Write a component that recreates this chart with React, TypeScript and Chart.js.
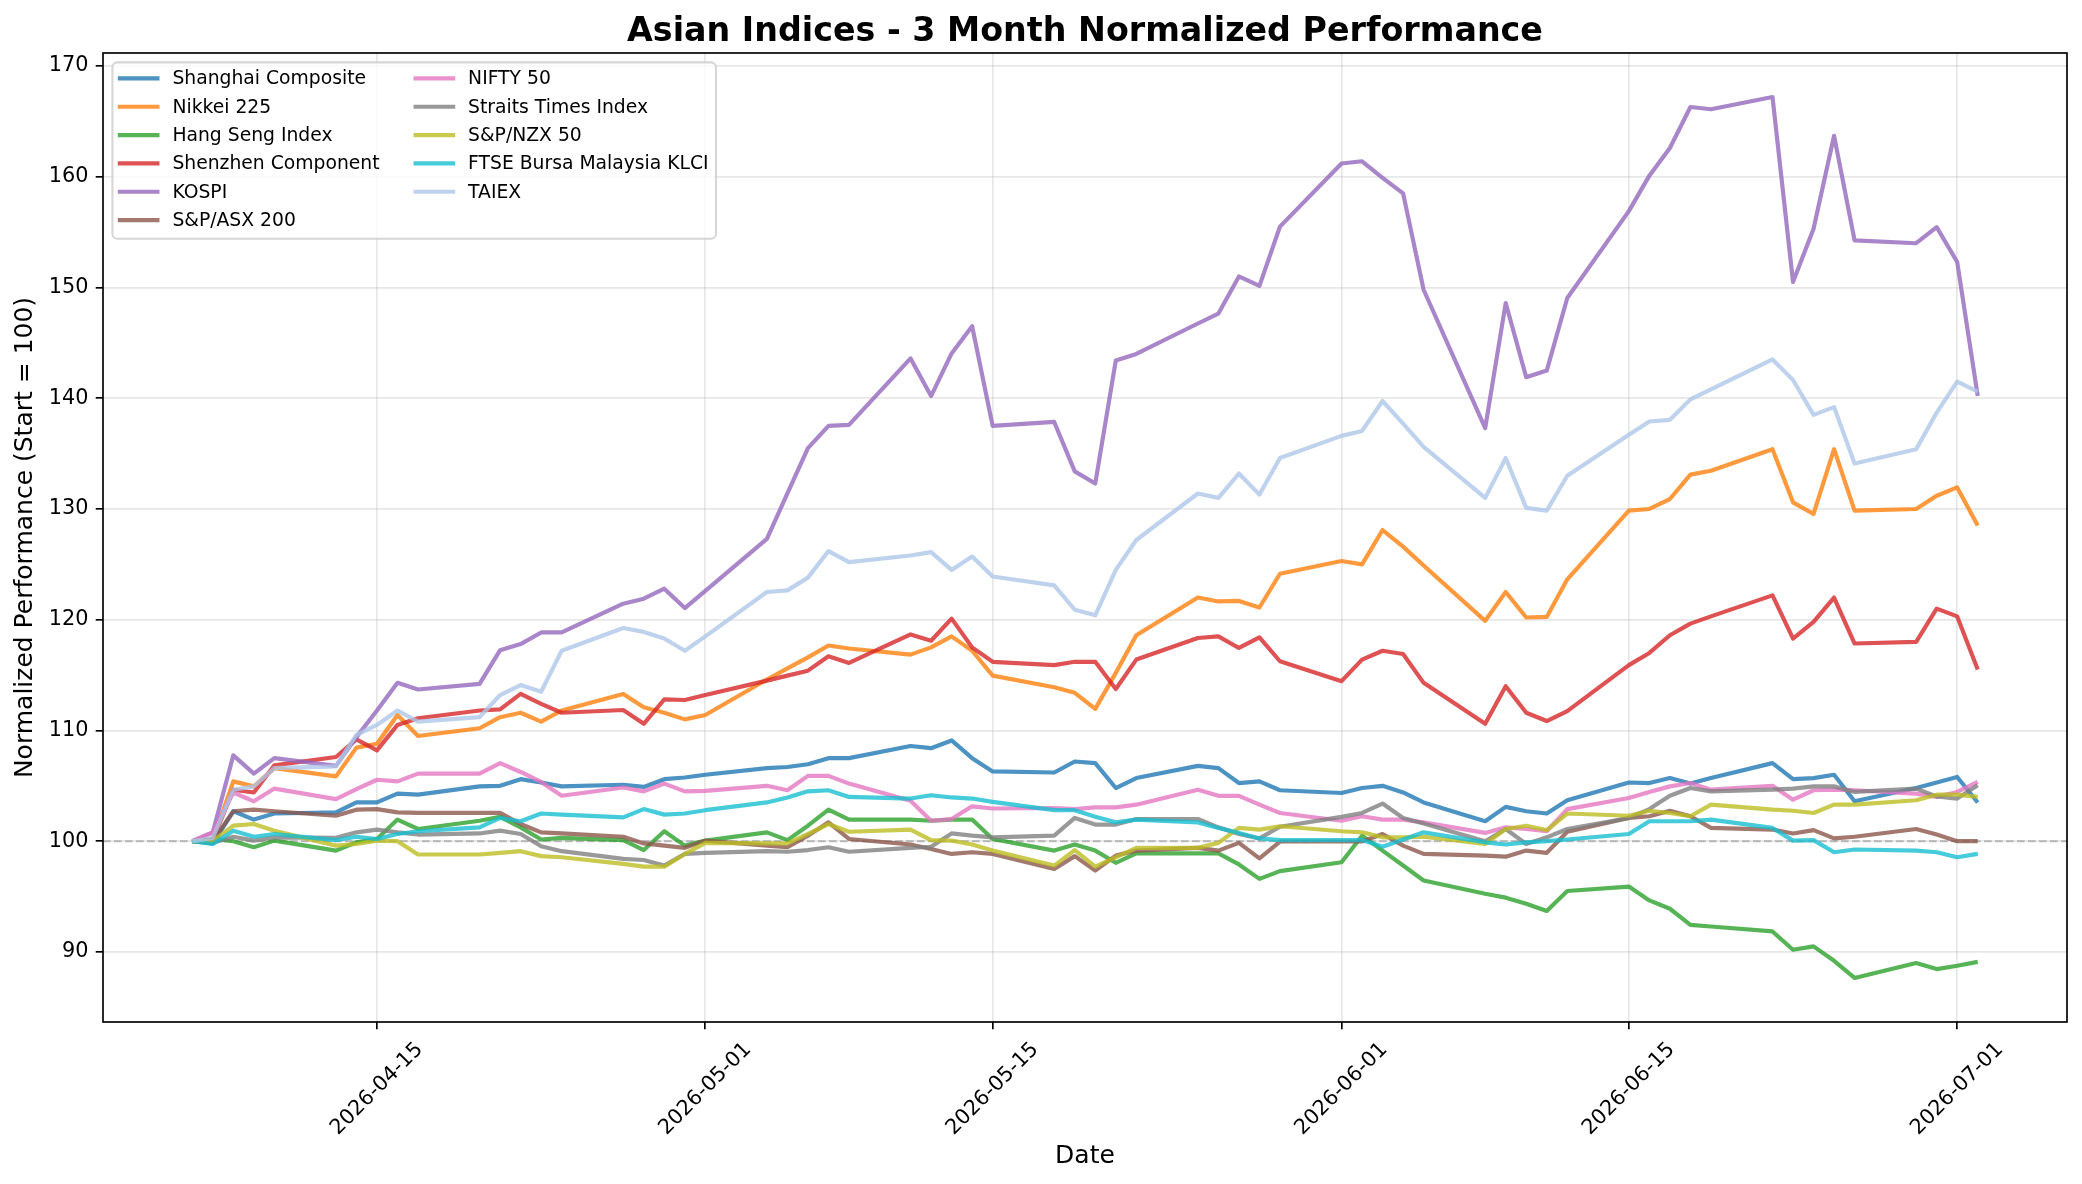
import React, { useEffect, useRef } from 'react';
import { Chart, registerables } from 'chart.js';

Chart.register(...registerables);

const TITLE = 'Asian Indices - 3 Month Normalized Performance';
const X_LABEL = 'Date';
const Y_LABEL = 'Normalized Performance (Start = 100)';
const BASELINE = 100;

const DATES = [
  '2026-04-06', '2026-04-07', '2026-04-08', '2026-04-09', '2026-04-10',
  '2026-04-13', '2026-04-14', '2026-04-15', '2026-04-16', '2026-04-17',
  '2026-04-20', '2026-04-21', '2026-04-22', '2026-04-23', '2026-04-24',
  '2026-04-27', '2026-04-28', '2026-04-29', '2026-04-30', '2026-05-01',
  '2026-05-04', '2026-05-05', '2026-05-06', '2026-05-07', '2026-05-08',
  '2026-05-11', '2026-05-12', '2026-05-13', '2026-05-14', '2026-05-15',
  '2026-05-18', '2026-05-19', '2026-05-20', '2026-05-21', '2026-05-22',
  '2026-05-25', '2026-05-26', '2026-05-27', '2026-05-28', '2026-05-29',
  '2026-06-01', '2026-06-02', '2026-06-03', '2026-06-04', '2026-06-05',
  '2026-06-08', '2026-06-09', '2026-06-10', '2026-06-11', '2026-06-12',
  '2026-06-15', '2026-06-16', '2026-06-17', '2026-06-18', '2026-06-19',
  '2026-06-22', '2026-06-23', '2026-06-24', '2026-06-25', '2026-06-26',
  '2026-06-29', '2026-06-30', '2026-07-01', '2026-07-02',
];

const X_TICK_DATES = ['2026-04-15', '2026-05-01', '2026-05-15', '2026-06-01', '2026-06-15', '2026-07-01'];
const Y_TICKS = [90, 100, 110, 120, 130, 140, 150, 160, 170];

const SHANGHAI = [
  100, 99.8, 102.7, 101.95, 102.5, 102.6, 103.5, 103.5, 104.3, 104.2,
  104.95, 105.0, 105.6, 105.3, 104.95, 105.1, 104.9, 105.6, 105.75, 106.0,
  106.6, 106.7, 106.95, 107.5, 107.5, 108.6, 108.4, 109.1, 107.5, 106.3,
  106.2, 107.2, 107.05, 104.8, 105.7, 106.8, 106.6, 105.25, 105.4, 104.6,
  104.35, 104.8, 105.0, 104.4, 103.5, 101.8, 103.1, 102.7, 102.5, 103.7,
  105.3, 105.25, 105.7, 105.2, 105.7, 107.05, 105.6, 105.7, 106.0, 103.6,
  104.8, 105.3, 105.8, 103.5,
];
const NIKKEI = [
  100, 100.1, 105.4, 104.95, 106.6, 105.85, 108.45, 108.8, 111.4, 109.5,
  110.2, 111.2, 111.6, 110.8, 111.8, 113.3, 112.1, 111.6, 111.0, 111.4,
  114.6, 115.6, 116.6, 117.67, 117.4, 116.85, 117.5, 118.5, 117.2, 114.95,
  113.9, 113.4, 111.95, 115.2, 118.6, 122.0, 121.65, 121.7, 121.1, 124.15,
  125.3, 125.0, 128.1, 126.6, 124.9, 119.9, 122.5, 120.2, 120.25, 123.65,
  129.85, 130.0, 130.9, 133.1, 133.45, 135.4, 130.6, 129.55, 135.4, 129.85,
  130.0, 131.2, 131.95, 128.5,
];
const HANG_SENG = [
  100, 100.2, 100.0, 99.45, 100.05, 99.15, 99.9, 100.2, 101.95, 101.1,
  101.85, 102.2, 101.25, 100.15, 100.3, 100.1, 99.2, 100.9, 99.6, 100.05,
  100.8, 100.1, 101.4, 102.85, 101.95, 101.95, 101.85, 101.95, 101.95, 100.2,
  99.15, 99.7, 99.15, 98.05, 98.9, 98.9, 98.9, 97.9, 96.6, 97.3,
  98.1, 100.5, 99.15, 97.8, 96.45, 95.25, 94.9, 94.35, 93.7, 95.5,
  95.9, 94.65, 93.9, 92.45, 92.3, 91.85, 90.2, 90.5, 89.2, 87.65,
  89.0, 88.45, 88.75, 89.1,
];
const SHENZHEN = [
  100, 100.1, 104.65, 104.4, 106.85, 107.6, 109.2, 108.2, 110.5, 111.1,
  111.8, 111.9, 113.3, 112.4, 111.6, 111.85, 110.6, 112.8, 112.75, 113.2,
  114.5, 114.95, 115.4, 116.7, 116.1, 118.67, 118.1, 120.1, 117.5, 116.2,
  115.9, 116.2, 116.2, 113.75, 116.4, 118.35, 118.5, 117.45, 118.4, 116.25,
  114.45, 116.4, 117.2, 116.9, 114.3, 110.6, 114.0, 111.6, 110.85, 111.75,
  115.9, 117.0, 118.6, 119.65, 120.3, 122.2, 118.3, 119.8, 122.0, 117.85,
  118.0, 121.0, 120.3, 115.5,
];
const KOSPI = [
  100, 100.8, 107.75, 106.1, 107.5, 106.8, 109.4, 111.8, 114.3, 113.7,
  114.2, 117.25, 117.8, 118.85, 118.85, 121.45, 121.9, 122.8, 121.05, 122.6,
  127.3, 131.4, 135.5, 137.5, 137.6, 143.6, 140.2, 144.05, 146.5, 137.5,
  137.86, 133.4, 132.3, 143.4, 144.0, 146.75, 147.65, 151.0, 150.15, 155.5,
  161.2, 161.4, 159.9, 158.5, 149.8, 137.3, 148.6, 141.9, 142.5, 149.05,
  156.9, 160.1, 162.6, 166.3, 166.1, 167.2, 150.5, 155.3, 163.7, 154.25,
  154.0, 155.45, 152.3, 140.2,
];
const ASX_200 = [
  100, 100, 102.7, 102.85, 102.7, 102.3, 102.85, 102.9, 102.6, 102.55,
  102.55, 102.55, 101.55, 100.8, 100.7, 100.4, 99.8, 99.6, 99.4, 100.05,
  99.6, 99.45, 100.5, 101.7, 100.2, 99.7, 99.3, 98.85, 99.0, 98.85,
  97.5, 98.65, 97.35, 98.7, 99.15, 99.4, 99.15, 99.85, 98.45, 99.97,
  99.97, 99.97, 100.65, 99.6, 98.85, 98.7, 98.6, 99.15, 98.95, 100.85,
  102.1, 102.25, 102.75, 102.25, 101.2, 101.05, 100.7, 101.0, 100.25, 100.4,
  101.1, 100.6, 100.0, 100.0,
];
const NIFTY_50 = [
  100, 100.8, 104.4, 103.6, 104.75, 103.8, 104.7, 105.55, 105.4, 106.1,
  106.1, 107.05, 106.25, 105.35, 104.1, 104.85, 104.5, 105.2, 104.5, 104.55,
  105.0, 104.6, 105.9, 105.9, 105.2, 103.65, 101.85, 102.0, 103.15, 102.95,
  103.0, 102.9, 103.05, 103.05, 103.3, 104.65, 104.1, 104.1, 103.3, 102.55,
  101.85, 102.25, 101.95, 101.95, 101.7, 100.75, 101.25, 101.1, 100.9, 102.9,
  103.9, 104.45, 104.95, 105.25, 104.65, 105.0, 103.75, 104.6, 104.65, 104.6,
  104.3, 104.0, 104.45, 105.35,
];
const STRAITS = [
  100, 99.85, 100.4, 100.05, 100.35, 100.3, 100.8, 101.05, 100.8, 100.6,
  100.7, 100.95, 100.65, 99.55, 99.1, 98.4, 98.3, 97.8, 98.85, 98.95,
  99.1, 99.05, 99.2, 99.45, 99.05, 99.4, 99.5, 100.7, 100.5, 100.35,
  100.5, 102.1, 101.5, 101.5, 102.0, 102.0, 101.25, 100.65, 100.25, 101.3,
  102.2, 102.55, 103.4, 102.1, 101.6, 100.0, 101.1, 99.75, 100.35, 101.1,
  102.1, 102.9, 104.1, 104.8, 104.5, 104.65, 104.75, 104.95, 104.95, 104.45,
  104.75, 104.05, 103.85, 105.05,
];
const NZX_50 = [
  100, 100, 101.4, 101.55, 100.95, 99.6, 99.75, 100.05, 100.0, 98.8,
  98.8, 98.95, 99.1, 98.65, 98.55, 97.95, 97.7, 97.7, 98.85, 99.85,
  99.8, 99.8, 100.65, 101.55, 100.85, 101.05, 100.1, 100.05, 99.7, 99.15,
  97.8, 99.2, 97.7, 98.55, 99.4, 99.4, 99.85, 101.2, 101.05, 101.35,
  100.9, 100.8, 100.35, 100.35, 100.4, 99.75, 101.1, 101.4, 101.0, 102.5,
  102.3, 102.75, 102.55, 102.25, 103.3, 102.85, 102.75, 102.55, 103.3, 103.3,
  103.7, 104.2, 104.2, 104.0,
];
const KLCI = [
  100, 99.75, 100.95, 100.4, 100.65, 100.1, 100.4, 100.2, 100.65, 100.9,
  101.25, 102.1, 101.8, 102.5, 102.4, 102.15, 102.9, 102.4, 102.5, 102.8,
  103.5, 103.95, 104.5, 104.6, 104.0, 103.85, 104.15, 103.95, 103.85, 103.55,
  102.8, 102.8, 102.2, 101.7, 101.95, 101.7, 101.2, 100.75, 100.25, 100.1,
  100.1, 100.1, 99.5, 100.15, 100.8, 99.9, 99.7, 99.9, 100.0, 100.15,
  100.65, 101.8, 101.8, 101.8, 101.95, 101.2, 100.05, 100.1, 99.0, 99.25,
  99.15, 99.0, 98.55, 98.85,
];
const TAIEX = [
  100, 100.3, 104.65, 104.95, 106.6, 106.75, 109.6, 110.5, 111.8, 110.8,
  111.2, 113.2, 114.1, 113.5, 117.2, 119.25, 118.9, 118.3, 117.2, 118.5,
  122.5, 122.65, 123.8, 126.2, 125.2, 125.8, 126.1, 124.5, 125.7, 123.9,
  123.1, 120.9, 120.4, 124.5, 127.2, 131.4, 131.0, 133.2, 131.3, 134.6,
  136.6, 137.05, 139.75, 137.7, 135.6, 131.0, 134.6, 130.1, 129.85, 133.0,
  136.7, 137.9, 138.05, 139.9, 140.8, 143.5, 141.65, 138.5, 139.2, 134.1,
  135.4, 138.7, 141.5, 140.6,
];

const SERIES_NAMES = [
  'Shanghai Composite', 'Nikkei 225', 'Hang Seng Index', 'Shenzhen Component', 'KOSPI',
  'S&P/ASX 200', 'NIFTY 50', 'Straits Times Index', 'S&P/NZX 50', 'FTSE Bursa Malaysia KLCI', 'TAIEX',
];
const SERIES_VALUES = [SHANGHAI, NIKKEI, HANG_SENG, SHENZHEN, KOSPI, ASX_200, NIFTY_50, STRAITS, NZX_50, KLCI, TAIEX];
const SERIES_COLORS = [
  '#1f77b4', '#ff7f0e', '#2ca02c', '#d62728', '#9467bd',
  '#8c564b', '#e377c2', '#7f7f7f', '#bcbd22', '#17becf', '#aec7e8',
];

const W = 2082;
const H = 1184;
const FONT = '"DejaVu Sans", Verdana, sans-serif';
const DAY_MS = 86400000;
const toDay = (s: string) => Date.parse(s + 'T00:00:00Z') / DAY_MS;

function withAlpha(hex: string, a: number) {
  const n = parseInt(hex.slice(1), 16);
  return `rgba(${(n >> 16) & 255},${(n >> 8) & 255},${n & 255},${a})`;
}

const decorPlugin = {
  id: 'decor',
  beforeDatasetsDraw(chart: any) {
    const { ctx, chartArea: a, scales } = chart;
    const py = scales.y.getPixelForValue(BASELINE);
    ctx.save();
    ctx.beginPath();
    ctx.rect(a.left, a.top, a.right - a.left, a.bottom - a.top);
    ctx.clip();
    ctx.strokeStyle = 'rgba(128,128,128,0.5)';
    ctx.lineWidth = 2.08;
    ctx.setLineDash([7.7, 3.3]);
    ctx.beginPath();
    ctx.moveTo(a.left, py);
    ctx.lineTo(a.right, py);
    ctx.stroke();
    ctx.restore();
  },
  afterDraw(chart: any) {
    const { ctx, chartArea: a, scales } = chart;
    const cx = (a.left + a.right) / 2;
    ctx.save();
    // frame
    ctx.strokeStyle = '#000';
    ctx.lineWidth = 1.67;
    ctx.strokeRect(a.left, a.top, a.right - a.left, a.bottom - a.top);

    ctx.fillStyle = '#000';
    // x tick labels (rotated 45, centered)
    ctx.font = `20.8px ${FONT}`;
    X_TICK_DATES.forEach((d) => {
      const px = scales.x.getPixelForValue(toDay(d));
      ctx.save();
      ctx.translate(px, a.bottom + 67);
      ctx.rotate(-Math.PI / 4);
      ctx.textAlign = 'center';
      ctx.textBaseline = 'middle';
      ctx.fillText(d, 0, 0);
      ctx.restore();
    });
    // axis labels
    ctx.font = `25px ${FONT}`;
    ctx.textAlign = 'center';
    ctx.textBaseline = 'middle';
    ctx.fillText(X_LABEL, cx, 1156);
    ctx.save();
    ctx.translate(25, (a.top + a.bottom) / 2);
    ctx.rotate(-Math.PI / 2);
    ctx.fillText(Y_LABEL, 0, 0);
    ctx.restore();
    // title
    ctx.font = `bold 33.3px ${FONT}`;
    ctx.textBaseline = 'alphabetic';
    ctx.fillText(TITLE, cx, a.top - 12.5);

    // legend
    const lx = a.left + 9.4;
    const ly = a.top + 9.4;
    const lw = 716 - lx;
    const lh = 238.7 - ly;
    ctx.beginPath();
    if (ctx.roundRect) ctx.roundRect(lx, ly, lw, lh, 5);
    else ctx.rect(lx, ly, lw, lh);
    ctx.fillStyle = 'rgba(255,255,255,0.8)';
    ctx.fill();
    ctx.strokeStyle = 'rgba(204,204,204,0.8)';
    ctx.lineWidth = 2.08;
    ctx.stroke();
    ctx.font = `18.75px ${FONT}`;
    ctx.textAlign = 'left';
    ctx.textBaseline = 'middle';
    SERIES_NAMES.forEach((name, i) => {
      const col = i < 6 ? 0 : 1;
      const row = i < 6 ? i : i - 6;
      const ry = ly + 16 + row * 28.33;
      const hx = col === 0 ? lx + 7.5 : 415.6;
      ctx.strokeStyle = withAlpha(SERIES_COLORS[i], 0.8);
      ctx.lineWidth = 4.17;
      ctx.lineCap = 'square';
      ctx.beginPath();
      ctx.moveTo(hx, ry);
      ctx.lineTo(hx + 37.5, ry);
      ctx.stroke();
      ctx.fillStyle = '#000';
      ctx.fillText(name, hx + 52.5, ry + 1);
    });
    ctx.restore();
  },
};

export default function App() {
  const canvasRef = useRef<HTMLCanvasElement | null>(null);

  useEffect(() => {
    document.body.style.margin = '0';
    const canvas = canvasRef.current;
    if (!canvas) return;
    const xs = DATES.map(toDay);
    const all = SERIES_VALUES.flat();
    const yLo = Math.min(...all);
    const yHi = Math.max(...all);
    const yPad = (yHi - yLo) * 0.05;
    const xPad = (xs[xs.length - 1] - xs[0]) * 0.05;
    const gridStyle = {
      color: 'rgba(176,176,176,0.3)',
      lineWidth: 1.67,
      drawTicks: true,
      tickLength: 7.3,
      tickColor: '#000',
      tickWidth: 1.67,
    };

    const chart = new Chart(canvas, {
      type: 'line',
      data: {
        datasets: SERIES_VALUES.map((vals, i) => ({
          label: SERIES_NAMES[i],
          data: vals.map((v, j) => ({ x: xs[j], y: v })),
          borderColor: withAlpha(SERIES_COLORS[i], 0.8),
          backgroundColor: withAlpha(SERIES_COLORS[i], 0.8),
          borderWidth: 4.17,
          pointRadius: 0,
          pointHoverRadius: 0,
          tension: 0,
          fill: false,
          borderJoinStyle: 'round' as const,
          order: SERIES_VALUES.length - 1 - i,
        })),
      },
      options: {
        responsive: false,
        devicePixelRatio: 1,
        animation: false,
        events: [],
        layout: { padding: { top: 53, right: 15, bottom: 0, left: 0 } },
        plugins: {
          legend: { display: false },
          title: { display: false },
          tooltip: { enabled: false },
        },
        scales: {
          x: {
            type: 'linear',
            min: xs[0] - xPad,
            max: xs[xs.length - 1] + xPad,
            afterBuildTicks: (s: any) => {
              s.ticks = X_TICK_DATES.map((d) => ({ value: toDay(d) }));
            },
            afterFit: (s: any) => {
              s.height = 162;
            },
            ticks: { display: false },
            grid: gridStyle,
            border: { display: false },
          },
          y: {
            type: 'linear',
            min: yLo - yPad,
            max: yHi + yPad,
            afterBuildTicks: (s: any) => {
              s.ticks = Y_TICKS.map((v) => ({ value: v }));
            },
            afterFit: (s: any) => {
              s.width = 103;
            },
            ticks: {
              color: '#000',
              padding: 7.3,
              font: { family: FONT, size: 20.8 },
              callback: (v: any) => String(v),
            },
            grid: gridStyle,
            border: { display: false },
          },
        },
      },
      plugins: [decorPlugin],
    } as any);

    return () => chart.destroy();
  }, []);

  return (
    <div style={{ width: W, height: H }}>
      <canvas ref={canvasRef} width={W} height={H} style={{ display: 'block' }} />
    </div>
  );
}
